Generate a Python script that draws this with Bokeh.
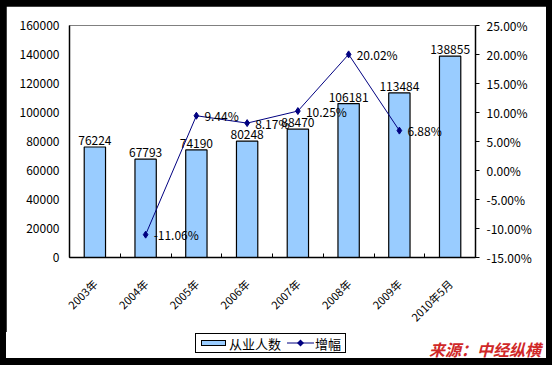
from bokeh.plotting import figure
from bokeh.layouts import column
from bokeh.models import (Range1d, LinearAxis, FixedTicker, NumeralTickFormatter,
                          ColumnDataSource, Div)
from bokeh.core.properties import value
from bokeh.embed import file_html
from bokeh.resources import INLINE
import math

years = ["2003年", "2004年", "2005年", "2006年", "2007年", "2008年", "2009年", "2010年5月"]
employees = [76224, 67793, 74190, 80248, 88470, 106181, 113484, 138855]
growth = [None, -11.06, 9.44, 8.17, 10.25, 20.02, 6.88, None]
left_ticks = [0, 20000, 40000, 60000, 80000, 100000, 120000, 140000, 160000]
right_ticks = [-0.15, -0.10, -0.05, 0.0, 0.05, 0.10, 0.15, 0.20, 0.25]
series_names = ["从业人数", "增幅"]
source_note = "来源：中经纵横"

FONT = "Noto Sans CJK SC"
BAR_FILL = "#99CCFF"
LINE_COL = "#000080"
xs = [i + 0.5 for i in range(len(years))]

p = figure(width=540, height=326, output_backend="svg", toolbar_location=None,
           x_range=Range1d(0, len(years)), y_range=Range1d(0, 160000),
           min_border_left=63, min_border_right=71, min_border_top=19, min_border_bottom=74)
p.extra_y_ranges = {"pct": Range1d(-0.15, 0.25)}
p.grid.visible = False
p.background_fill_color = "white"
p.border_fill_color = "white"
p.outline_line_color = "#808080"
p.outline_line_width = 1

# bottom axis
p.xaxis.ticker = FixedTicker(ticks=xs, minor_ticks=list(range(len(years) + 1)))
p.xaxis.major_label_overrides = {x: y for x, y in zip(xs, years)}
p.xaxis.major_label_orientation = math.pi / 4
p.xaxis.major_tick_line_color = None
p.xaxis.minor_tick_in = 4
p.xaxis.minor_tick_out = 0
p.xaxis.minor_tick_line_color = "black"
p.xaxis.axis_line_color = "black"
p.xaxis.axis_line_width = 1.5
p.xaxis.major_label_text_font = FONT
p.xaxis.major_label_text_font_size = "11px"
p.xaxis.major_label_text_color = "black"
p.xaxis.major_label_standoff = 18

# left axis
p.yaxis.ticker = FixedTicker(ticks=left_ticks)
p.yaxis.formatter = NumeralTickFormatter(format="0")
p.yaxis.major_tick_in = 0
p.yaxis.major_tick_out = 0
p.yaxis.minor_tick_line_color = None
p.yaxis.axis_line_color = "black"
p.yaxis.axis_line_width = 1.5
p.yaxis.major_label_standoff = 10
p.yaxis.major_label_text_font = FONT
p.yaxis.major_label_text_font_size = "12px"
p.yaxis.major_label_text_color = "black"

# right axis
ry = LinearAxis(y_range_name="pct", ticker=FixedTicker(ticks=right_ticks),
                formatter=NumeralTickFormatter(format="0.00%"))
ry.major_tick_in = 0
ry.major_tick_out = 4
ry.minor_tick_line_color = None
ry.axis_line_color = "black"
ry.axis_line_width = 1.5
ry.major_label_standoff = 7
ry.major_label_text_font = FONT
ry.major_label_text_font_size = "12px"
ry.major_label_text_color = "black"
p.add_layout(ry, "right")

# bars
bsrc = ColumnDataSource(dict(x=xs, y=employees, lab=[str(v) for v in employees]))
p.vbar(x="x", top="y", width=0.42, source=bsrc, fill_color=BAR_FILL,
       line_color="black", line_width=1.2)
p.text(x="x", y="y", text="lab", source=bsrc, text_align="center", text_baseline="bottom",
       y_offset=-2, text_font=value(FONT), text_font_size="12px", text_color="black")

# growth line
gx = [x for x, g in zip(xs, growth) if g is not None]
gy = [g / 100 for g in growth if g is not None]
gl = [f"{g:.2f}%" for g in growth if g is not None]
lsrc = ColumnDataSource(dict(x=gx, y=gy, lab=gl))
p.line(x="x", y="y", source=lsrc, y_range_name="pct", line_color=LINE_COL, line_width=1)
p.scatter(x="x", y="y", source=lsrc, y_range_name="pct", marker="diamond", size=7,
          fill_color=LINE_COL, line_color=LINE_COL)
p.text(x="x", y="y", text="lab", source=lsrc, y_range_name="pct", text_align="left",
       text_baseline="middle", x_offset=8, text_font=value(FONT), text_font_size="12px",
       text_color="black")

# bottom strip: legend + source note (HTML)
legend_html = f"""
<div style="position:relative;width:540px;height:26px;background:white;font-family:'{FONT}';">
  <div style="position:absolute;left:189px;top:1px;width:151px;height:20px;border:1px solid black;
              background:white;display:flex;align-items:center;font-size:13px;line-height:1;">
    <span style="display:inline-block;width:25px;height:6px;margin-left:5px;margin-right:3px;
                 background:{BAR_FILL};border:1px solid black;"></span>
    <span>{series_names[0]}</span>
    <svg width="27" height="10" style="margin-left:6px;margin-right:1px;">
      <line x1="0" y1="5" x2="27" y2="5" stroke="{LINE_COL}" stroke-width="1"/>
      <polygon points="13.5,1.5 17,5 13.5,8.5 10,5" fill="{LINE_COL}"/>
    </svg>
    <span>{series_names[1]}</span>
  </div>
  <div style="position:absolute;left:423px;top:9px;white-space:nowrap;font-size:16px;line-height:1;
              font-weight:bold;font-style:italic;color:#D02828;">{source_note}</div>
</div>
"""
note = Div(text=legend_html, width=540, height=26, margin=0,
           styles={"background-color": "white", "overflow": "visible",
                   "margin": "0", "padding": "0"})

layout = column(p, note, spacing=0,
                styles={"background-color": "black", "padding": "6px 6px 7px 6px"})

open("out.html", "w").write(file_html(layout, INLINE))
